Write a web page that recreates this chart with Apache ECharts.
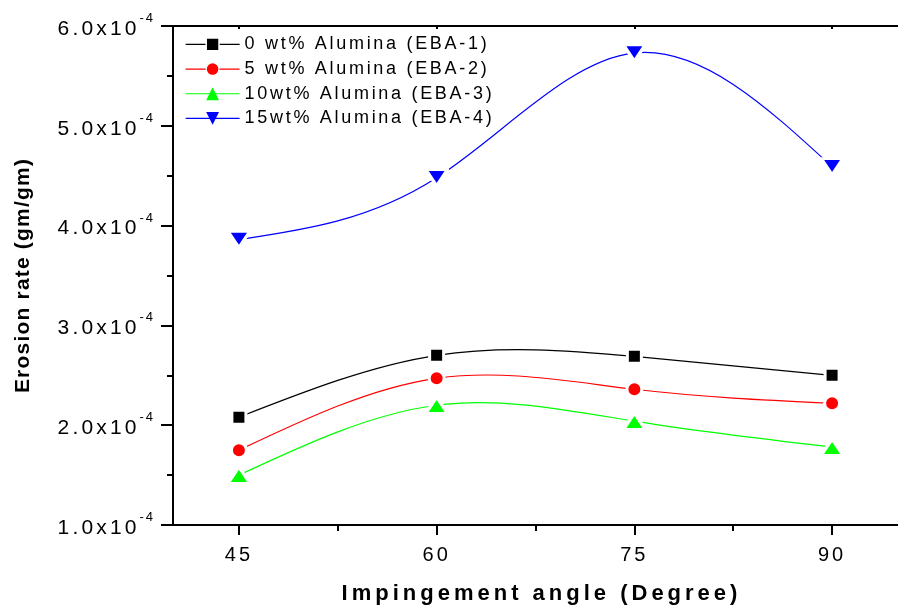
<!DOCTYPE html>
<html>
<head>
<meta charset="utf-8">
<script src="https://cdn.jsdelivr.net/npm/echarts@6/dist/echarts.min.js"></script>
<style>
  html, body { margin: 0; padding: 0; background: #fff; }
  #chart { width: 898px; height: 612px; }
</style>
</head>
<body>
<div id="chart"></div>
<script>
// Origin-style wide letter spacing for canvas text (styling only)
(function () {
  var P = window.CanvasRenderingContext2D && CanvasRenderingContext2D.prototype;
  if (!P || !('letterSpacing' in P)) return;
  var d = Object.getOwnPropertyDescriptor(P, 'font');
  if (!d || !d.set) return;
  Object.defineProperty(P, 'font', {
    configurable: true,
    get: function () { return d.get.call(this); },
    set: function (v) {
      d.set.call(this, v);
      var m = /(\d+(?:\.\d+)?)px/.exec(v);
      var px = m ? +m[1] : 12;
      var sp = /bold/.test(v) ? (px >= 22 ? 4 : 1.2) : px * 0.15;
      this.letterSpacing = sp.toFixed(2) + 'px';
    }
  });
})();

// ---- data ----
const angles = [45, 60, 75, 90];
const eba1 = [2.08e-4, 2.70e-4, 2.69e-4, 2.50e-4];
const eba2 = [1.75e-4, 2.47e-4, 2.36e-4, 2.22e-4];
const eba3 = [1.50e-4, 2.20e-4, 2.04e-4, 1.78e-4];
const eba4 = [3.86e-4, 4.48e-4, 5.73e-4, 4.59e-4];
const seriesNames = [
  '0 wt% Alumina (EBA-1)',
  '5 wt% Alumina (EBA-2)',
  '10wt% Alumina (EBA-3)',
  '15wt% Alumina (EBA-4)'
];
const xMajorTicks = [45, 60, 75, 90];
const xMinorTicks = [52.5, 67.5, 82.5];

const FONT = 'Liberation Sans';
const pair = arr => angles.map((a, i) => [a, arr[i]]);

// Natural cubic spline slopes (how Origin's "spline" connection is drawn)
function splineSlopes(xs, ys) {
  const n = xs.length;
  const h = [];
  for (let i = 0; i < n - 1; i++) h.push(xs[i + 1] - xs[i]);
  const M = new Array(n).fill(0);
  if (n > 2) {
    const a = [], b = [], c = [], r = [];
    for (let i = 1; i < n - 1; i++) {
      a.push(h[i - 1]); b.push(2 * (h[i - 1] + h[i])); c.push(h[i]);
      r.push(6 * ((ys[i + 1] - ys[i]) / h[i] - (ys[i] - ys[i - 1]) / h[i - 1]));
    }
    const m = b.length;
    for (let i = 1; i < m; i++) {
      const w = a[i] / b[i - 1];
      b[i] -= w * c[i - 1];
      r[i] -= w * r[i - 1];
    }
    const sol = new Array(m);
    sol[m - 1] = r[m - 1] / b[m - 1];
    for (let i = m - 2; i >= 0; i--) sol[i] = (r[i] - c[i] * sol[i + 1]) / b[i];
    for (let i = 0; i < m; i++) M[i + 1] = sol[i];
  }
  const s = [];
  for (let i = 0; i < n - 1; i++) {
    s.push((ys[i + 1] - ys[i]) / h[i] - h[i] * (2 * M[i] + M[i + 1]) / 6);
  }
  const k = n - 2;
  s.push((ys[k + 1] - ys[k]) / h[k] + h[k] * (M[k] + 2 * M[k + 1]) / 6);
  return s;
}

function splineSeries(name, values, color) {
  const slopes = splineSlopes(angles, values);
  return {
    name: name + ' curve',
    type: 'custom',
    coordinateSystem: 'cartesian2d',
    xAxisIndex: 0, yAxisIndex: 0,
    data: pair(values),
    encode: { x: 0, y: 1 },
    silent: true,
    z: 2,
    renderItem: function (params, api) {
      const i = params.dataIndex;
      if (i >= angles.length - 1) return { type: 'group', children: [] };
      const x0 = angles[i], x1 = angles[i + 1];
      const y0 = values[i], y1 = values[i + 1];
      const hh = (x1 - x0) / 3;
      const p0 = api.coord([x0, y0]);
      const p1 = api.coord([x1, y1]);
      const c0 = api.coord([x0 + hh, y0 + slopes[i] * hh]);
      const c1 = api.coord([x1 - hh, y1 - slopes[i + 1] * hh]);
      return {
        type: 'bezierCurve',
        shape: { x1: p0[0], y1: p0[1], x2: p1[0], y2: p1[1], cpx1: c0[0], cpy1: c0[1], cpx2: c1[0], cpy2: c1[1] },
        style: { stroke: color, fill: null, lineWidth: 1.2 }
      };
    }
  };
}

function markerSeries(name, values, color, symbol, size, rotate) {
  return {
    name: name,
    type: 'line',
    data: pair(values),
    symbol: symbol,
    symbolSize: size,
    symbolRotate: rotate || 0,
    showAllSymbol: true,
    lineStyle: { color: color, width: 1.2, opacity: 0 },
    itemStyle: { color: color, borderColor: '#ffffff', borderWidth: 3, borderJoin: 'round' },
    emphasis: { disabled: true },
    z: 3
  };
}

const chart = echarts.init(document.getElementById('chart'), null, { renderer: 'canvas' });
chart.setOption({
  animation: false,
  backgroundColor: '#ffffff',
  grid: { left: 173, right: -5, top: 26, bottom: 86, containLabel: false },
  legend: {
    left: 185,
    top: 34,
    orient: 'vertical',
    padding: 0,
    itemWidth: 54,
    itemHeight: 16,
    itemGap: 4,
    data: [
      { name: seriesNames[0], itemStyle: { borderWidth: 1.5 } },
      { name: seriesNames[1], itemStyle: { borderWidth: 1.2 } },
      { name: seriesNames[2], itemStyle: { borderWidth: 0 } },
      { name: seriesNames[3], itemStyle: { borderWidth: 0 } }
    ],
    lineStyle: { width: 1.2, opacity: 1 },
    textStyle: { fontFamily: FONT, fontSize: 18, color: '#000' },
    selectedMode: false
  },
  xAxis: [
    {
      type: 'value', min: 40, max: 95, position: 'bottom',
      name: 'Impingement angle (Degree)', nameLocation: 'middle', nameGap: 56,
      nameTextStyle: { fontFamily: FONT, fontSize: 22, fontWeight: 'bold', color: '#000', padding: [0, 0, 0, 12] },
      axisLine: { show: true, onZero: false, lineStyle: { color: '#000', width: 2 } },
      axisTick: { show: true, inside: false, length: 10, customValues: xMajorTicks, lineStyle: { color: '#000', width: 2 } },
      axisLabel: { show: true, customValues: xMajorTicks, margin: 19, fontFamily: FONT, fontSize: 20, color: '#000' },
      splitLine: { show: false }
    },
    {
      type: 'value', min: 40, max: 95, position: 'bottom',
      axisLine: { show: false },
      axisTick: { show: true, inside: false, length: 6, customValues: xMinorTicks, lineStyle: { color: '#000', width: 2 } },
      axisLabel: { show: false },
      splitLine: { show: false }
    },
    {
      type: 'value', min: 40, max: 95, position: 'top',
      axisLine: { show: true, onZero: false, lineStyle: { color: '#000', width: 2 } },
      axisTick: { show: true, inside: true, length: 3, customValues: xMajorTicks, lineStyle: { color: '#000', width: 2 } },
      axisLabel: { show: false },
      splitLine: { show: false }
    }
  ],
  yAxis: [
    {
      type: 'value', min: 1e-4, max: 6e-4, interval: 1e-4, position: 'left',
      name: 'Erosion rate (gm/gm)', nameLocation: 'middle', nameGap: 139,
      nameTextStyle: { fontFamily: FONT, fontSize: 21, fontWeight: 'bold', color: '#000' },
      axisLine: { show: true, onZero: false, lineStyle: { color: '#000', width: 2 } },
      axisTick: { show: true, inside: false, length: 12, lineStyle: { color: '#000', width: 2 } },
      minorTick: { show: true, splitNumber: 2, length: 6, lineStyle: { color: '#000', width: 2 } },
      axisLabel: {
        margin: 18,
        formatter: function (v) {
          return '{b|' + (v * 1e4).toFixed(1) + 'x10}{s|-4}';
        },
        rich: {
          b: { fontFamily: FONT, fontSize: 21, color: '#000', lineHeight: 30, verticalAlign: 'bottom' },
          s: { fontFamily: FONT, fontSize: 13, color: '#000', lineHeight: 13, verticalAlign: 'top' }
        }
      },
      splitLine: { show: false },
      minorSplitLine: { show: false }
    }
  ],
  series: [
    splineSeries(seriesNames[0], eba1, '#000000'),
    splineSeries(seriesNames[1], eba2, '#ff0000'),
    splineSeries(seriesNames[2], eba3, '#00ff00'),
    splineSeries(seriesNames[3], eba4, '#0000ff'),
    markerSeries(seriesNames[0], eba1, '#000000', 'rect', 14),
    markerSeries(seriesNames[1], eba2, '#ff0000', 'circle', 15),
    markerSeries(seriesNames[2], eba3, '#00ff00', 'triangle', [21.6, 16.2]),
    markerSeries(seriesNames[3], eba4, '#0000ff', 'triangle', [21.6, 16.2], 180)
  ]
});
</script>
</body>
</html>
